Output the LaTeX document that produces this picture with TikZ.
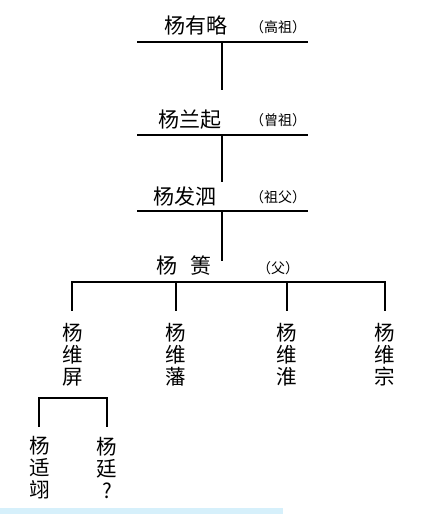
\documentclass[tikz,border=0pt]{standalone}
\usepackage{fontspec}
\newfontfamily\cjk{Noto Sans CJK SC}
\definecolor{barblue}{RGB}{214,240,251}
\begin{document}
\begin{tikzpicture}[x=1pt,y=-1pt,
  big/.style={font=\cjk\fontsize{21}{22}\selectfont, inner sep=0pt},
  tag/.style={font=\cjk\fontsize{14}{15}\selectfont, inner sep=0pt},
  col/.style={font=\cjk\fontsize{20.5}{22}\selectfont, inner sep=0pt, align=center},
  tree/.style={line width=2pt}]
\useasboundingbox (0,0) rectangle (430,514);
\fill[barblue] (0,508) rectangle (283,514);
% generations
\node[big] (g1) at (196,25) {杨有略};
\node[tag] (t1) at (278,27) {（高祖）};
\node[big] (g2) at (190,120) {杨兰起};
\node[tag] (t2) at (278,120) {（曾祖）};
\node[big] (g3) at (185,197) {杨发泗};
\node[tag] (t3) at (278,197) {（祖父）};
\node[big] (g4) at (184,266) {杨\hspace{0.6em}箦};
\node[tag] (t4) at (278,268) {（父）};
% bars
\coordinate (b1l) at (137,42); \coordinate (b1r) at (308,42);
\coordinate (b1m) at (222,42); \coordinate (e1) at (222,90);
\coordinate (b2l) at (137,135); \coordinate (b2r) at (308,135);
\coordinate (b2m) at (222,135); \coordinate (e2) at (222,182);
\coordinate (b3l) at (137,211); \coordinate (b3r) at (308,211);
\coordinate (b3m) at (222,211); \coordinate (e3) at (222,261);
\draw[tree] (b1l) -- (b1r);
\draw[tree] (b1m) -- (e1);
\draw[tree] (b2l) -- (b2r);
\draw[tree] (b2m) -- (e2);
\draw[tree] (b3l) -- (b3r);
\draw[tree] (b3m) -- (e3);
% children
\node[col] (c1) at (73,355) {杨\\维\\屏};
\node[col] (c2) at (176,355) {杨\\维\\藩};
\node[col] (c3) at (287,355) {杨\\维\\淮};
\node[col] (c4) at (385,355) {杨\\维\\宗};
\coordinate (k1) at (72,282); \coordinate (k2) at (176,282);
\coordinate (k3) at (287,282); \coordinate (k4) at (385,282);
\draw[tree] ([xshift=-1pt]k1) -- ([xshift=1pt]k4);
\foreach \k in {k1,k2,k3,k4}{\draw[tree] (\k) -- ++(0,29);}
% grandchildren
\node[col] (d1) at (40,468) {杨\\适\\翊};
\node[col] (d2) at (107,468) {杨\\廷\\?};
\coordinate (m1) at (39,398); \coordinate (m2) at (107,398);
\coordinate (n1) at (39,427); \coordinate (n2) at (107,427);
\draw[tree] (n1) -- (m1) -- (m2) -- (n2);
\end{tikzpicture}
\end{document}
